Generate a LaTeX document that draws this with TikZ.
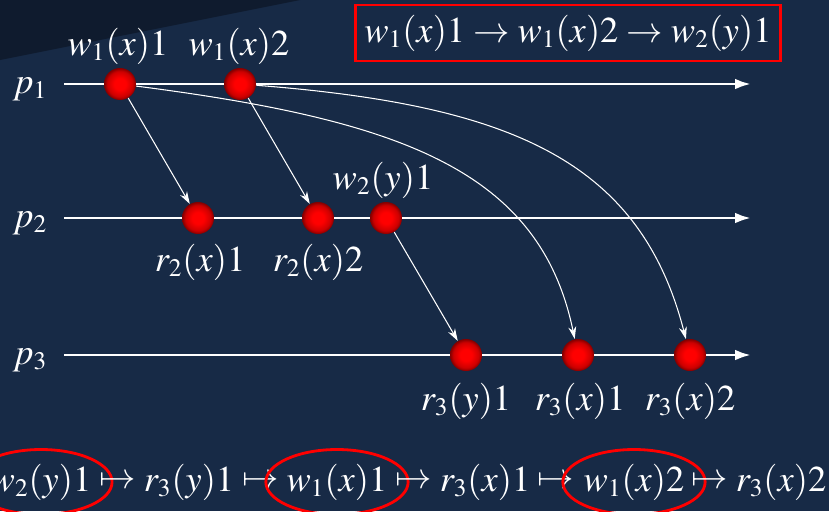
\documentclass[tikz,border=0pt]{standalone}
\usepackage{mathptmx}
\usepackage{tikz}
\usetikzlibrary{
  arrows.meta,%
  % ellipses round the picked writes
  shapes.geometric,%
  positioning
}
\definecolor{slidebg}{RGB}{23,42,70}
\definecolor{slidedark}{RGB}{15,27,46}
\pgfdeclareradialshading{redball}{\pgfpoint{0bp}{0bp}}{color(0bp)=(red);
  color(9bp)=(red); color(20bp)=(red!80!black); color(25bp)=(red!50!black);
  color(50bp)=(red!50!black)}
\tikzset{>=latex}
\tikzset{
  event/.style={circle, minimum size=0.64cm, inner sep=0pt, shading=redball},
  lbl/.style={text=white, font=\huge, inner sep=1pt},
  proc/.style={white, line width=1.6pt, -{Latex[length=9pt,width=6pt]}},
  msg/.style={white, line width=0.6pt, -{Stealth[length=7pt,width=4.5pt]}},
  pick/.style={ellipse, draw=red, line width=1.6pt, minimum width=2.4cm,
    minimum height=1.3cm, inner sep=0pt, text=white, font=\huge},
}

\begin{document}
\begin{tikzpicture}[x=0.02cm, y=-0.02cm]
        \useasboundingbox (0,0) rectangle (829,511);
        \fill[slidebg] (0,0) rectangle (829,511); %
        \fill[slidedark] (0,0) -- (300,0) -- (0,60) -- cycle; %
        % processes
        \node[lbl] (p1) at (30,89) {$p_1$}; %
        \node[lbl] (p2) at (30,223) {$p_2$}; %
        \node[lbl] (p3) at (30,360) {$p_3$}; %
        \coordinate (p1s) at (64,84); \coordinate (p1e) at (751,84); %
        \coordinate (p2s) at (64,218); \coordinate (p2e) at (751,218); %
        \coordinate (p3s) at (64,355); \coordinate (p3e) at (751,355); %
        \draw[proc] (p1s) -- (p1e); %
        \draw[proc] (p2s) -- (p2e); %
        \draw[proc] (p3s) -- (p3e); %
        % events
        \node[event] (w1x1) at (120,84) {}; %
        \node[event] (w1x2) at (240,84) {}; %
        \node[event] (r2x1) at (198,218) {}; %
        \node[event] (r2x2) at (318,218) {}; %
        \node[event] (w2y1) at (386,218) {}; %
        \node[event] (r3y1) at (466,355) {}; %
        \node[event] (r3x1) at (578,355) {}; %
        \node[event] (r3x2) at (690,355) {}; %
        \node[lbl] (lw1x1) at (118,46) {$w_1(x)1$}; %
        \node[lbl] (lw1x2) at (239,46) {$w_1(x)2$}; %
        \node[lbl] (lw2y1) at (383,180) {$w_2(y)1$}; %
        \node[lbl] (lr2x1) at (200,262) {$r_2(x)1$}; %
        \node[lbl] (lr2x2) at (318,262) {$r_2(x)2$}; %
        \node[lbl] (lr3y1) at (466,401) {$r_3(y)1$}; %
        \node[lbl] (lr3x1) at (580,401) {$r_3(x)1$}; %
        \node[lbl] (lr3x2) at (690,401) {$r_3(x)2$}; %
        % messages
        \draw[msg] (w1x1) -- (r2x1); %
        \draw[msg] (w1x2) -- (r2x2); %
        \draw[msg] (w2y1) -- (r3y1); %
        \draw[msg] (w1x1) .. controls (400,120) and (540,170) .. (r3x1); %
        \draw[msg] (w1x2) .. controls (510,105) and (640,160) .. (r3x2); %
        % causal order of the writes
        \node[lbl, draw=red, line width=1.6pt, minimum width=8.5cm,
        minimum height=1.12cm] (order) at (568,33) {$w_1(x)1 \to w_1(x)2
          \to w_2(y)1$}; %
        % what p3 sees
        \node[pick] (b1) at (41,482) {$w_2(y)1$}; %
        \node[lbl] (m1) at (118,482) {$\mapsto$}; %
        \node[lbl] (b2) at (189,482) {$r_3(y)1$}; %
        \node[lbl] (m2) at (261,482) {$\mapsto$}; %
        \node[pick] (b3) at (337,482) {$w_1(x)1$}; %
        \node[lbl] (m3) at (414,482) {$\mapsto$}; %
        \node[lbl] (b4) at (485,482) {$r_3(x)1$}; %
        \node[lbl] (m4) at (556,482) {$\mapsto$}; %
        \node[pick] (b5) at (634,482) {$w_1(x)2$}; %
        \node[lbl] (m5) at (710,482) {$\mapsto$}; %
        \node[lbl] (b6) at (781,482) {$r_3(x)2$}; %
      \end{tikzpicture}
\end{document}
